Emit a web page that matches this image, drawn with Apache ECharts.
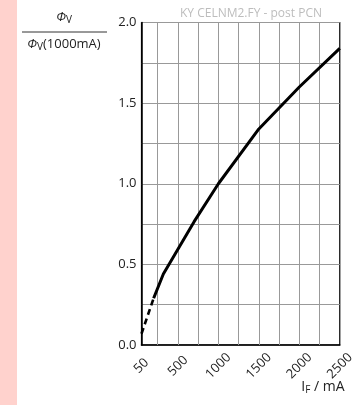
<!DOCTYPE html>
<html>
<head>
<meta charset="utf-8">
<script src="https://cdn.jsdelivr.net/npm/echarts@6/dist/echarts.min.js"></script>
<style>
  html, body { margin: 0; padding: 0; background: #fff; }
  #chart { width: 357px; height: 405px; }
</style>
</head>
<body>
<div id="chart"></div>
<script>
// Relative luminous flux vs. forward current
const currentDashed = [50, 200];
const fluxDashed = [0.07, 0.29];
const currentSolid = [200, 320, 700, 1000, 1500, 2000, 2500];
const fluxSolid = [0.29, 0.44, 0.765, 1.0, 1.34, 1.60, 1.84];
const xTickLabels = [50, 500, 1000, 1500, 2000, 2500];
const yTickLabels = [0.0, 0.5, 1.0, 1.5, 2.0];
const xGridValues = [250, 500, 750, 1000, 1250, 1500, 1750, 2000, 2250];

const font = '"Open Sans", "DejaVu Sans", sans-serif';
const chart = echarts.init(document.getElementById('chart'), null, { renderer: 'canvas' });

const pairs = (xs, ys) => xs.map((x, i) => [x, ys[i]]);

chart.setOption({
  animation: false,
  backgroundColor: '#fff',
  grid: {
    left: 141.5, right: 13, top: 22.5, bottom: 60,
    show: true, borderColor: '#000', borderWidth: 1.2, backgroundColor: 'transparent'
  },
  xAxis: {
    type: 'value', min: 50, max: 2500, interval: 50,
    axisLine: { lineStyle: { color: '#000', width: 1.5 } },
    axisTick: { show: false },
    splitLine: { show: false },
    axisLabel: {
      rotate: 45, margin: 21, align: 'center', verticalAlign: 'middle',
      color: '#222', fontFamily: font, fontSize: 13,
      formatter: v => (xTickLabels.indexOf(v) >= 0 ? String(v) : '')
    }
  },
  yAxis: {
    type: 'value', min: 0, max: 2, interval: 0.25,
    axisLine: { show: true, lineStyle: { color: '#000', width: 1.5 } },
    axisTick: { show: false },
    splitLine: { show: true, lineStyle: { color: '#999', width: 1 } },
    axisLabel: {
      margin: 5, color: '#222', fontFamily: font, fontSize: 13,
      formatter: v => (yTickLabels.some(t => Math.abs(t - v) < 1e-9) ? v.toFixed(1) : '')
    }
  },
  series: [
    {
      type: 'line', data: pairs(currentDashed, fluxDashed), showSymbol: false,
      lineStyle: { color: '#000', width: 2.6, type: [6, 4] }, z: 5,
      markLine: {
        silent: true, symbol: ['none', 'none'], label: { show: false },
        lineStyle: { color: '#999', width: 1, type: 'solid' },
        data: xGridValues.map(v => ({ xAxis: v }))
      }
    },
    {
      type: 'line', data: pairs(currentSolid, fluxSolid), showSymbol: false,
      lineStyle: { color: '#000', width: 3 }, z: 6
    }
  ],
  graphic: [
    { type: 'rect', left: 0, top: 0, shape: { width: 17, height: 405 }, style: { fill: '#ffd2cd' }, z: -1 },
    {
      type: 'text', x: 64, y: 17,
      style: {
        text: '{p|Φ}{s|V}', textAlign: 'center', textVerticalAlign: 'middle',
        rich: {
          p: { fontFamily: font, fontStyle: 'italic', fontSize: 13, fill: '#222' },
          s: { fontFamily: font, fontSize: 10, fill: '#222', padding: [6, 0, 0, 0] }
        }
      }
    },
    { type: 'line', shape: { x1: 22, y1: 32, x2: 107, y2: 32 }, style: { stroke: '#333', lineWidth: 1 } },
    {
      type: 'text', x: 64, y: 44,
      style: {
        text: '{p|Φ}{s|V}{n|(1000mA)}', textAlign: 'center', textVerticalAlign: 'middle',
        rich: {
          p: { fontFamily: font, fontStyle: 'italic', fontSize: 13, fill: '#222' },
          s: { fontFamily: font, fontSize: 10, fill: '#222', padding: [6, 0, 0, 0] },
          n: { fontFamily: font, fontSize: 13, fill: '#222' }
        }
      }
    },
    {
      type: 'text', x: 251, y: 14,
      style: {
        text: 'KY CELNM2.FY - post PCN', textAlign: 'center', textVerticalAlign: 'middle',
        fontFamily: font, fontSize: 12, fill: '#bdbdbd'
      }
    },
    {
      type: 'text', x: 323, y: 387,
      style: {
        text: '{i|I}{s|F}{n| / mA}', textAlign: 'center', textVerticalAlign: 'middle',
        rich: {
          i: { fontFamily: font, fontSize: 14, fill: '#222' },
          s: { fontFamily: font, fontSize: 10, fill: '#222', padding: [7, 0, 0, 0] },
          n: { fontFamily: font, fontSize: 14, fill: '#222' }
        }
      }
    }
  ]
});
</script>
</body>
</html>
